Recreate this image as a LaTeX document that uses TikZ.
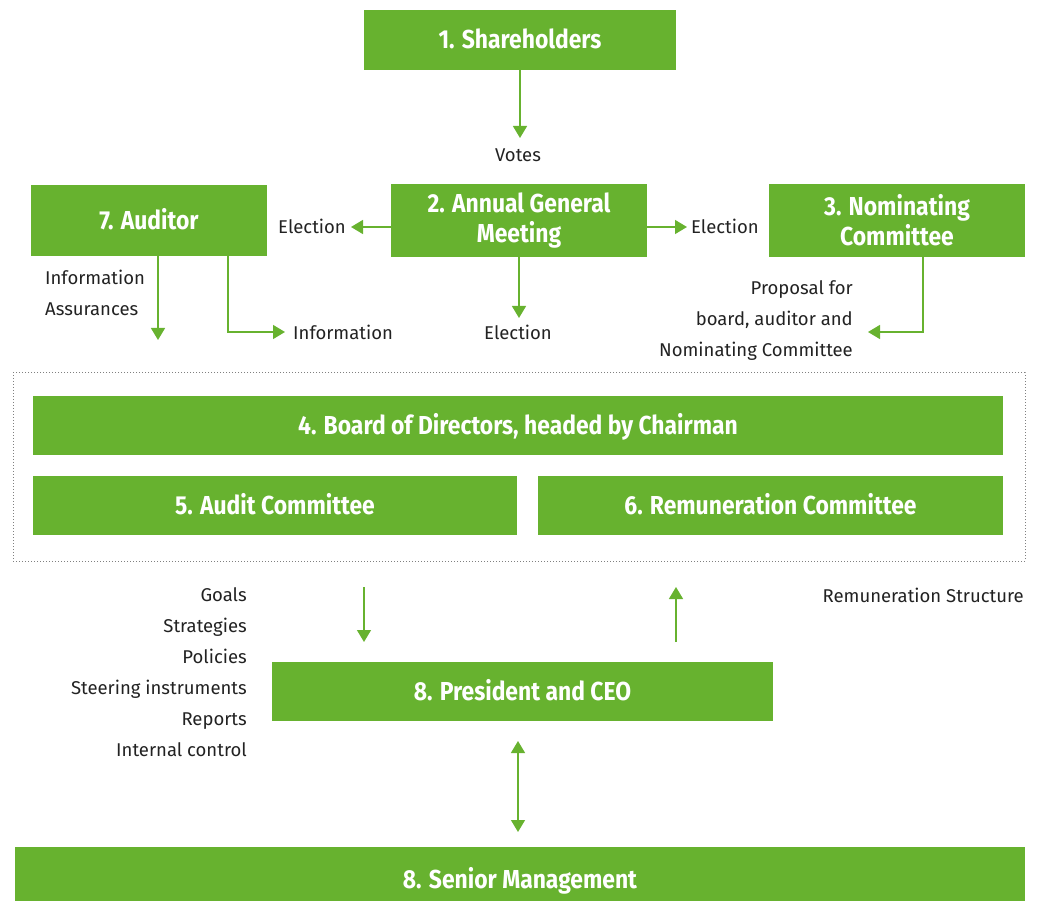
\documentclass[tikz,border=0pt]{standalone}
\usepackage{fontspec}
\setmainfont{Fira Sans}
\newfontfamily\titlefont{Fira Sans}[FakeStretch=0.88]
\usetikzlibrary{arrows.meta}
\definecolor{brand}{HTML}{67B22F}
\definecolor{ink}{HTML}{222222}
\tikzset{
  box/.style={fill=brand, text=white, inner sep=0pt, align=center,
    font=\titlefont\fontsize{26}{30}\selectfont\bfseries},
  onebox/.style={box, text height=18pt, text depth=0pt},
  lbl/.style={text=ink, inner sep=0pt, font=\fontsize{18.5}{31}\selectfont},
  link/.style={draw=brand, line width=1.4pt, -{Triangle[width=14pt,length=12pt]}},
  biglink/.style={draw=brand, line width=1.4pt, {Triangle[width=14pt,length=12pt]}-{Triangle[width=14pt,length=12pt]}},
  frame/.style={draw=gray, dotted, line width=1pt}
}
\begin{document}
\begin{tikzpicture}[x=1pt,y=-1pt]
\useasboundingbox (0,0) rectangle (1037,901);
% boxes
\node[onebox, minimum width=312pt, minimum height=60pt] (sh) at (520,40) {1. Shareholders};
\node[onebox, minimum width=236pt, minimum height=71pt] (aud) at (149,220.5) {7. Auditor};
\node[box, minimum width=256pt, minimum height=73pt] (agm) at (519,220.5) {2. Annual General\\Meeting};
\node[box, minimum width=256pt, minimum height=73pt] (nom) at (897,220.5) {3. Nominating\\Committee};
\node[frame, minimum width=1012pt, minimum height=188pt, inner sep=0pt] (grp) at (519,467) {};
\node[onebox, minimum width=970pt, minimum height=59pt] (bod) at (518,425.5) {4. Board of Directors, headed by Chairman};
\node[onebox, minimum width=484pt, minimum height=59pt] (ac) at (275,505.5) {5. Audit Committee};
\node[onebox, minimum width=465pt, minimum height=59pt] (rc) at (770.5,505.5) {6. Remuneration Committee};
\node[onebox, minimum width=501pt, minimum height=59pt] (ceo) at (522.5,691.5) {8. President and CEO};
\node[onebox, minimum width=1010pt, minimum height=64pt] (sm) at (520,879) {8. Senior Management};
% labels
\node[lbl] (votes) at (518,155) {Votes};
\node[lbl, anchor=east] (elL) at (346,226) {Election};
\node[lbl, anchor=west] (elR) at (691,226) {Election};
\node[lbl] (elD) at (518,332) {Election};
\node[lbl, anchor=north west, align=left] (infoA) at (45,269.5) {Information\\Assurances};
\node[lbl, anchor=west] (infoB) at (293,332) {Information};
\node[lbl, anchor=north east, align=right] (prop) at (853,280.5) {Proposal for\\board, auditor and\\Nominating Committee};
\node[lbl, anchor=north east, align=right] (goals) at (247,587.5) {Goals\\Strategies\\Policies\\Steering instruments\\Reports\\Internal control};
\node[lbl, anchor=east] (rem) at (1024,595) {Remuneration Structure};
% free ends
\coordinate (votesTip) at (520,138);
\coordinate (elLTip) at (351,227);
\coordinate (elRTip) at (687,227);
\coordinate (elDTip) at (519,318);
\coordinate (audTip) at (158,340);
\coordinate (infoTip) at (285,332);
\coordinate (infoBend) at (228,332);
\coordinate (propTip) at (868,332);
\coordinate (propBend) at (923,332);
\coordinate (downStart) at (364,587);
\coordinate (downTip) at (364,642);
\coordinate (upStart) at (676,642);
\coordinate (upTip) at (676,587);
\coordinate (dblTop) at (518,741);
\coordinate (dblBot) at (518,832);
% connectors
\draw[link] (sh.south) -- (votesTip);
\draw[link] (agm.west |- elLTip) -- (elLTip);
\draw[link] (agm.east |- elRTip) -- (elRTip);
\draw[link] (agm.south) -- (elDTip);
\draw[link] (aud.south -| audTip) -- (audTip);
\draw[link] (aud.south -| infoBend) -- (infoBend) -- (infoTip);
\draw[link] (nom.south -| propBend) -- (propBend) -- (propTip);
\draw[link] (downStart) -- (downTip);
\draw[link] (upStart) -- (upTip);
\draw[biglink] (dblTop) -- (dblBot);
\end{tikzpicture}
\end{document}
